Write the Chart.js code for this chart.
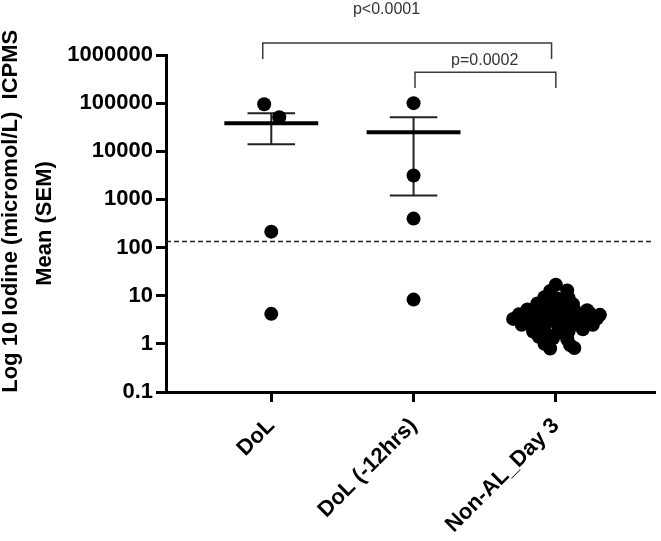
<!DOCTYPE html>
<html>
<head>
<meta charset="utf-8">
<script src="https://cdn.jsdelivr.net/npm/chart.js@4.4.1/dist/chart.umd.min.js"></script>
<style>
    html, body { margin: 0; padding: 0; background: #fff; }
</style>
</head>
<body>
<canvas id="chart" width="661" height="541"></canvas>
<script>
const groups = ['DoL', 'DoL (-12hrs)', 'Non-AL_Day 3'];
const yTicks = [0.1, 1, 10, 100, 1000, 10000, 100000, 1000000];

// individual values per group, with the small horizontal spread of the scatter
const dolValues = [95000, 51000, 214, 4.2];
const dolJitter = [-0.05, 0.056, 0, 0];
const dol12Values = [100000, 3150, 400, 8.3];
const dol12Jitter = [0, 0, 0, 0];
const nonAlValues = [
    16.9,
    12.5, 12.9,
    9.3, 8.8, 9.0,
    6.9, 6.6, 7.1, 6.7,
    5.2, 5.0, 5.3, 4.9, 5.1, 5.0,
    4.1, 3.9, 4.2, 4.0, 3.9, 4.1, 4.3, 4.0,
    3.3, 3.1, 3.2, 3.0, 3.3, 3.1, 3.2, 3.4,
    2.5, 2.3, 2.4, 2.6, 2.3, 2.4, 2.5,
    1.8, 1.9, 1.7, 1.8, 2.0,
    1.4, 1.3, 1.25,
    1.0, 0.95,
    0.8, 0.82
];
const nonAlJitter = [
    0,
    -0.04, 0.08,
    -0.08, 0.01, 0.09,
    -0.13, -0.05, 0.03, 0.12,
    -0.20, -0.12, -0.03, 0.05, 0.13, 0.22,
    -0.26, -0.17, -0.09, -0.01, 0.08, 0.16, 0.24, 0.31,
    -0.30, -0.22, -0.13, -0.05, 0.03, 0.12, 0.20, 0.29,
    -0.24, -0.16, -0.08, 0.01, 0.09, 0.17, 0.26,
    -0.16, -0.08, 0.01, 0.09, 0.19,
    -0.12, -0.02, 0.08,
    -0.08, 0.10,
    -0.04, 0.13
];

const means = [38400, 25000, 3.8];
const semLow = [14000, 1210, 3.3];
const semHigh = [62000, 51000, 4.4];

const cutoff = 133;

// significance brackets
const bracketLabels = ['p<0.0001', 'p=0.0002'];
const bracketFrom = [0.94, 2.01];
const bracketTo = [2.97, 3.0];
const bracketTop = [1780000, 440000];
const bracketFoot = [830000, 206000];
const labelX = [1.81, 2.5];
const labelY = [8600000, 750000];

const X_MIN = 0.26;
const X_MAX = 3.69;
const MEAN_HALF = 0.33;
const CAP_HALF = 0.167;
const FONT = '"Liberation Sans", Arial, sans-serif';

function pointsFor(values, jitter, groupIndex) {
    return values.map(function (v, i) {
        return { x: groupIndex + 1 + jitter[i], y: v };
    });
}

function lineSet(data, width, color, extra) {
    return Object.assign({
        data: data,
        showLine: true,
        borderColor: color,
        borderWidth: width,
        pointRadius: 0,
        pointHoverRadius: 0,
        fill: false
    }, extra || {});
}

const dotStyle = {
    backgroundColor: '#000',
    borderWidth: 0,
    pointRadius: 7,
    pointHoverRadius: 7
};

const datasets = [
    Object.assign({ data: pointsFor(dolValues, dolJitter, 0) }, dotStyle),
    Object.assign({ data: pointsFor(dol12Values, dol12Jitter, 1) }, dotStyle),
    Object.assign({ data: pointsFor(nonAlValues, nonAlJitter, 2) }, dotStyle)
];

means.forEach(function (m, g) {
    const x = g + 1;
    datasets.push(lineSet([{ x: x - MEAN_HALF, y: m }, { x: x + MEAN_HALF, y: m }], 4, '#000'));
    datasets.push(lineSet([{ x: x, y: semLow[g] }, { x: x, y: semHigh[g] }], 2, '#222'));
    datasets.push(lineSet([{ x: x - CAP_HALF, y: semLow[g] }, { x: x + CAP_HALF, y: semLow[g] }], 2, '#222'));
    datasets.push(lineSet([{ x: x - CAP_HALF, y: semHigh[g] }, { x: x + CAP_HALF, y: semHigh[g] }], 2, '#222'));
});

datasets.push(lineSet([{ x: X_MIN, y: cutoff }, { x: X_MAX, y: cutoff }], 1.5, '#222', { borderDash: [5, 3] }));

bracketLabels.forEach(function (label, i) {
    datasets.push(lineSet([
        { x: bracketFrom[i], y: bracketFoot[i] },
        { x: bracketFrom[i], y: bracketTop[i] },
        { x: bracketTo[i], y: bracketTop[i] },
        { x: bracketTo[i], y: bracketFoot[i] }
    ], 1.5, '#3a3a3a', { clip: false }));
});

const pLabelPlugin = {
    id: 'pLabels',
    afterDatasetsDraw: function (chart) {
        const ctx = chart.ctx;
        const xs = chart.scales.x;
        const ys = chart.scales.y;
        ctx.save();
        ctx.font = '16px ' + FONT;
        ctx.fillStyle = '#333';
        ctx.textAlign = 'center';
        ctx.textBaseline = 'middle';
        bracketLabels.forEach(function (t, i) {
            ctx.fillText(t, xs.getPixelForValue(labelX[i]), ys.getPixelForValue(labelY[i]));
        });
        ctx.restore();
    }
};

const axisFont = { family: FONT, size: 22, weight: 'bold' };

new Chart(document.getElementById('chart').getContext('2d'), {
    type: 'scatter',
    data: { datasets: datasets },
    options: {
        responsive: false,
        animation: false,
        devicePixelRatio: 1,
        layout: { padding: { top: 55, right: 3, left: 0, bottom: 0 } },
        plugins: {
            legend: { display: false },
            tooltip: { enabled: false }
        },
        scales: {
            x: {
                type: 'linear',
                min: X_MIN,
                max: X_MAX,
                afterBuildTicks: function (scale) {
                    scale.ticks = groups.map(function (g, i) { return { value: i + 1 }; });
                },
                afterFit: function (scale) { scale.height = 149; },
                ticks: {
                    autoSkip: false,
                    minRotation: 45,
                    maxRotation: 45,
                    padding: 11,
                    color: '#000',
                    font: axisFont,
                    callback: function (value, index) { return groups[index]; }
                },
                grid: { drawOnChartArea: false, drawTicks: true, tickLength: 10, lineWidth: 3, color: '#000' },
                border: { color: '#000', width: 3 }
            },
            y: {
                type: 'logarithmic',
                min: 0.1,
                max: 1000000,
                afterBuildTicks: function (scale) {
                    scale.ticks = yTicks.map(function (v) { return { value: v }; });
                },
                afterFit: function (scale) { scale.width = 166; },
                ticks: {
                    padding: 3,
                    color: '#000',
                    font: axisFont,
                    callback: function (value) { return String(value); }
                },
                grid: { drawOnChartArea: false, drawTicks: true, tickLength: 10, lineWidth: 3, color: '#000' },
                border: { color: '#000', width: 3 },
                title: {
                    display: true,
                    text: ['    Log 10 Iodine (micromol/L)  ICPMS', 'Mean (SEM)'],
                    color: '#000',
                    font: { family: FONT, size: 22, weight: 'bold', lineHeight: 1.55 },
                    padding: { top: -6, bottom: 0 }
                }
            }
        }
    },
    plugins: [pLabelPlugin]
});
</script>
</body>
</html>
